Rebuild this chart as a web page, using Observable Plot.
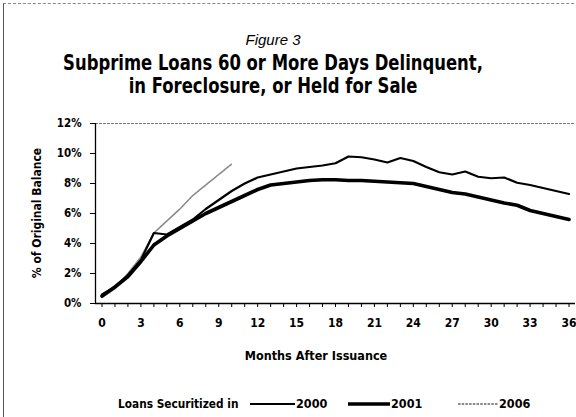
<!DOCTYPE html>
<html><head><meta charset="utf-8">
<script src="https://cdn.jsdelivr.net/npm/d3@7"></script>
<script src="https://cdn.jsdelivr.net/npm/@observablehq/plot@0.6"></script>
<style>
body{margin:0;background:#fff;}
#wrap{position:relative;width:576px;height:417px;overflow:hidden;background:#fff;font-family:"Liberation Sans Narrow","DejaVu Sans Condensed","Arial Narrow",sans-serif;color:#000;}
#frame{position:absolute;left:3px;top:3px;width:620px;height:500px;border-left:1.5px solid #555;border-top:1px dashed #888;}
.fig{position:absolute;left:0;width:546px;text-align:center;top:31px;font-family:"Liberation Sans",Arial,sans-serif;font-style:italic;font-size:15px;line-height:17px;}
.title{position:absolute;left:0;width:546px;text-align:center;font-weight:bold;font-size:21px;line-height:21px;white-space:nowrap;transform:scaleX(0.87);transform-origin:273px 0;}
#chart{position:absolute;left:0;top:100px;}
.ytitle{position:absolute;left:37px;top:213px;transform:translate(-50%,-50%) rotate(-90deg);white-space:nowrap;font-weight:bold;font-size:12px;}
.xtitle{position:absolute;left:316px;top:355px;transform:translate(-50%,-50%);white-space:nowrap;font-weight:bold;font-size:12.5px;}
.leg{position:absolute;top:396px;font-weight:bold;font-size:12.5px;white-space:nowrap;line-height:16px;transform-origin:0 0;}
.sw{position:absolute;top:396px;}
</style></head>
<body>
<div id="wrap">
  <div id="frame"></div>
  <div class="fig">Figure 3</div>
  <div class="title" style="top:53px">Subprime Loans 60 or More Days Delinquent,</div>
  <div class="title" style="top:76px">in Foreclosure, or Held for Sale</div>
  <div id="chart"></div>
  <div class="ytitle">% of Original Balance</div>
  <div class="xtitle">Months After Issuance</div>
  <div id="legend"></div>
</div>
<script>
const months = [0,1,2,3,4,5,6,7,8,9,10,11,12,13,14,15,16,17,18,19,20,21,22,23,24,25,26,27,28,29,30,31,32,33,34,35,36];
const s2000 = [0.6,1.1,1.9,2.9,4.7,4.6,5.1,5.6,6.3,6.9,7.5,8.0,8.4,8.6,8.8,9.0,9.1,9.2,9.35,9.8,9.75,9.6,9.4,9.7,9.5,9.1,8.75,8.6,8.8,8.45,8.35,8.4,8.05,7.9,7.7,7.5,7.3];
const s2001 = [0.5,1.1,1.8,2.8,3.9,4.5,5.0,5.5,6.0,6.4,6.8,7.2,7.6,7.9,8.0,8.1,8.2,8.25,8.25,8.2,8.2,8.15,8.1,8.05,8.0,7.8,7.6,7.4,7.3,7.1,6.9,6.7,6.55,6.2,6.0,5.8,5.6];
const s2006 = [0.4,1.0,2.0,3.1,4.7,5.5,6.3,7.2,7.9,8.6,9.3];
const yTicks = [0,2,4,6,8,10,12];
const xLabelTicks = [0,3,6,9,12,15,18,21,24,27,30,33,36];
const seriesNames = ["2000","2001","2006"];

const rows = [];
s2000.forEach((v,i)=>rows.push({m:months[i],v,s:"2000"}));
s2001.forEach((v,i)=>rows.push({m:months[i],v,s:"2001"}));
s2006.forEach((v,i)=>rows.push({m:months[i],v,s:"2006"}));

const font = '"Liberation Sans Narrow","DejaVu Sans Condensed","Arial Narrow",sans-serif';
const chart = Plot.plot({
  width: 576, height: 270,
  marginLeft: 95, marginRight: 1, marginTop: 23, marginBottom: 67,
  style: {fontFamily: font, fontSize: "11.5px", fontWeight: "bold", background: "transparent", color: "#000", overflow: "visible"},
  x: {domain: [-0.5, 36.5]},
  y: {domain: [0, 12]},
  marks: [
    Plot.ruleY([12], {stroke: "#777", strokeWidth: 1, strokeDasharray: "3,1"}),
    Plot.ruleX([-0.5], {y1: 0, y2: 12, stroke: "#000", strokeWidth: 1.3}),
    Plot.ruleY([0], {stroke: "#000", strokeWidth: 1.3}),
    Plot.axisY({ticks: yTicks, tickSize: 5, tickPadding: 9, tickFormat: d => d + "%", label: null, strokeWidth: 1}),
    Plot.axisX({ticks: months, tickSize: 4, tickFormat: () => "", label: null}),
    Plot.axisX({ticks: xLabelTicks, tickSize: 0, tickPadding: 15, fontSize: 12, label: null}),
    Plot.line(rows.filter(d=>d.s==="2006"), {x:"m", y:"v", stroke:"#8a8a8a", strokeWidth:1.6, strokeDasharray:"2.5,1.2"}),
    Plot.line(rows.filter(d=>d.s==="2001"), {x:"m", y:"v", stroke:"#000", strokeWidth:3.6}),
    Plot.line(rows.filter(d=>d.s==="2000"), {x:"m", y:"v", stroke:"#000", strokeWidth:2.2})
  ]
});
document.getElementById("chart").appendChild(chart);

// legend
const leg = document.getElementById("legend");
const items = [
  {x: 118, text: "Loans Securitized in", swatch: null, scale: 0.94},
  {x: 250, text: seriesNames[0], swatch: {w: 45, stroke: "#000", sw: 2.2, dash: null}, scale: 1},
  {x: 348, text: seriesNames[1], swatch: {w: 42, stroke: "#000", sw: 3.6, dash: null}, scale: 1},
  {x: 458, text: seriesNames[2], swatch: {w: 40, stroke: "#8a8a8a", sw: 1.8, dash: "2.5,1.2"}, scale: 1}
];
items.forEach(it => {
  let tx = it.x;
  if (it.swatch) {
    const ns = "http://www.w3.org/2000/svg";
    const svg = document.createElementNS(ns, "svg");
    svg.setAttribute("width", it.swatch.w); svg.setAttribute("height", 16);
    svg.setAttribute("class", "sw");
    svg.style.left = it.x + "px";
    const l = document.createElementNS(ns, "line");
    l.setAttribute("x1", 0); l.setAttribute("x2", it.swatch.w);
    l.setAttribute("y1", 8); l.setAttribute("y2", 8);
    l.setAttribute("stroke", it.swatch.stroke); l.setAttribute("stroke-width", it.swatch.sw);
    if (it.swatch.dash) l.setAttribute("stroke-dasharray", it.swatch.dash);
    svg.appendChild(l);
    leg.appendChild(svg);
    tx = it.x + it.swatch.w + 1;
  }
  const d = document.createElement("div");
  d.className = "leg"; d.style.left = tx + "px"; d.textContent = it.text;
  d.style.transform = `scaleX(${it.scale})`;
  leg.appendChild(d);
});
</script>
</body></html>
